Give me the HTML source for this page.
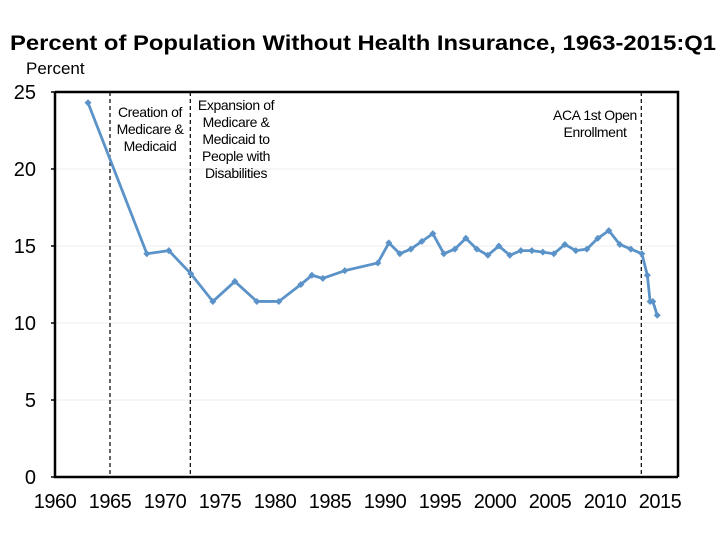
<!DOCTYPE html>
<html><head><meta charset="utf-8"><style>
body{margin:0;background:#fff;}
svg{display:block;font-family:"Liberation Sans",Arial,sans-serif;}
</style></head><body>
<svg id="chart" width="720" height="540" viewBox="0 0 720 540">
<text x="10" y="50" font-size="21" font-weight="bold" textLength="706" lengthAdjust="spacingAndGlyphs">Percent of Population Without Health Insurance, 1963-2015:Q1</text>
<text x="26" y="74" font-size="17">Percent</text>
<g id="grid"></g><g id="ann"></g><g id="axes"></g><g id="series"></g>
</svg>
<script>
const years=[1962.65,1968,1970,1972,1974,1976,1978,1980,1982,1983,1984,1986,1989,1990,1991,1992,1993,1994,1995,1996,1997,1998,1999,2000,2001,2002,2003,2004,2005,2006,2007,2008,2009,2010,2011,2012,2013,2013.5,2013.75,2014.0,2014.4];
const values=[24.3,14.5,14.7,13.2,11.4,12.7,11.4,11.4,12.5,13.1,12.9,13.4,13.9,15.2,14.5,14.8,15.3,15.8,14.5,14.8,15.5,14.8,14.4,15.0,14.4,14.7,14.7,14.6,14.5,15.1,14.7,14.8,15.5,16.0,15.1,14.8,14.5,13.1,11.4,11.4,10.5];
const yTicks=[0,5,10,15,20,25];
const xTicks=[1960,1965,1970,1975,1980,1985,1990,1995,2000,2005,2010,2015];
const events=[1965,1972.3,2013.3];
const NS="http://www.w3.org/2000/svg";
const X0=55,X1=678,Y0=477,Y1=92;
function xs(y){return X0+(y-1960)*11;}
function xd(y){return xs(y+0.35);}
function ys(v){return Y0-v*15.4;}
function mk(t,a,p){const e=document.createElementNS(NS,t);for(const k in a)e.setAttribute(k,a[k]);p.appendChild(e);return e;}
const grid=document.getElementById('grid'),axes=document.getElementById('axes'),ser=document.getElementById('series'),ann=document.getElementById('ann');
yTicks.forEach(v=>{
 if(v>0&&v<25){const g=mk('line',{x1:X0,x2:X1,y1:ys(v),y2:ys(v),stroke:'#eeeeee','stroke-width':1},grid);
 
 }
 const t=mk('line',{x1:X0-4,x2:X0,y1:ys(v),y2:ys(v),stroke:'#000','stroke-width':1.5},axes);
 
 
 const l=mk('text',{x:36,y:ys(v)+7,'font-size':20,'text-anchor':'end'},axes);l.textContent=v;
 
 
});
xTicks.forEach(y=>{
 const l=mk('text',{x:xs(y),y:508,'font-size':20,'text-anchor':'middle','letter-spacing':'-0.5'},axes);l.textContent=y;
 
 
});
const fr=mk('path',{d:`M${X0},${Y1} L${X1},${Y1} L${X1},${Y0} M${X0},${Y1} L${X0},${Y0} L${X1},${Y0}`,fill:'none',stroke:'#000','stroke-width':2.5},axes);


events.forEach(y=>{
 const d=mk('line',{x1:xs(y),x2:xs(y),y1:Y1,y2:Y0,stroke:'#000','stroke-width':1.2,'stroke-dasharray':'4,3'},ann);
 
 
});
function txt(lines,x,y,name){lines.forEach((s,i)=>{const t=mk('text',{x:x,y:y+i*17,'font-size':14,'text-anchor':'middle','letter-spacing':'-0.4'},ann);t.textContent=s;
 
 });}
txt(['Creation of','Medicare &','Medicaid'],150,117,'annotation-medicare-creation');
txt(['Expansion of','Medicare &','Medicaid to','People with','Disabilities'],236,110,'annotation-disabilities');
txt(['ACA 1st Open','Enrollment'],595,120,'annotation-aca');
const pts=years.map((y,i)=>xd(y)+','+ys(values[i])).join(' ');
const pl=mk('polyline',{points:pts,fill:'none',stroke:'#5b93c9','stroke-width':2.8,'stroke-linejoin':'round'},ser);


years.forEach((y,i)=>{const cx=xd(y),cy=ys(values[i]);
 const m=mk('path',{d:`M${cx},${cy-3.5}L${cx+3.5},${cy}L${cx},${cy+3.5}L${cx-3.5},${cy}Z`,fill:'#5b93c9'},ser);
 
 });
</script>
</body></html>
